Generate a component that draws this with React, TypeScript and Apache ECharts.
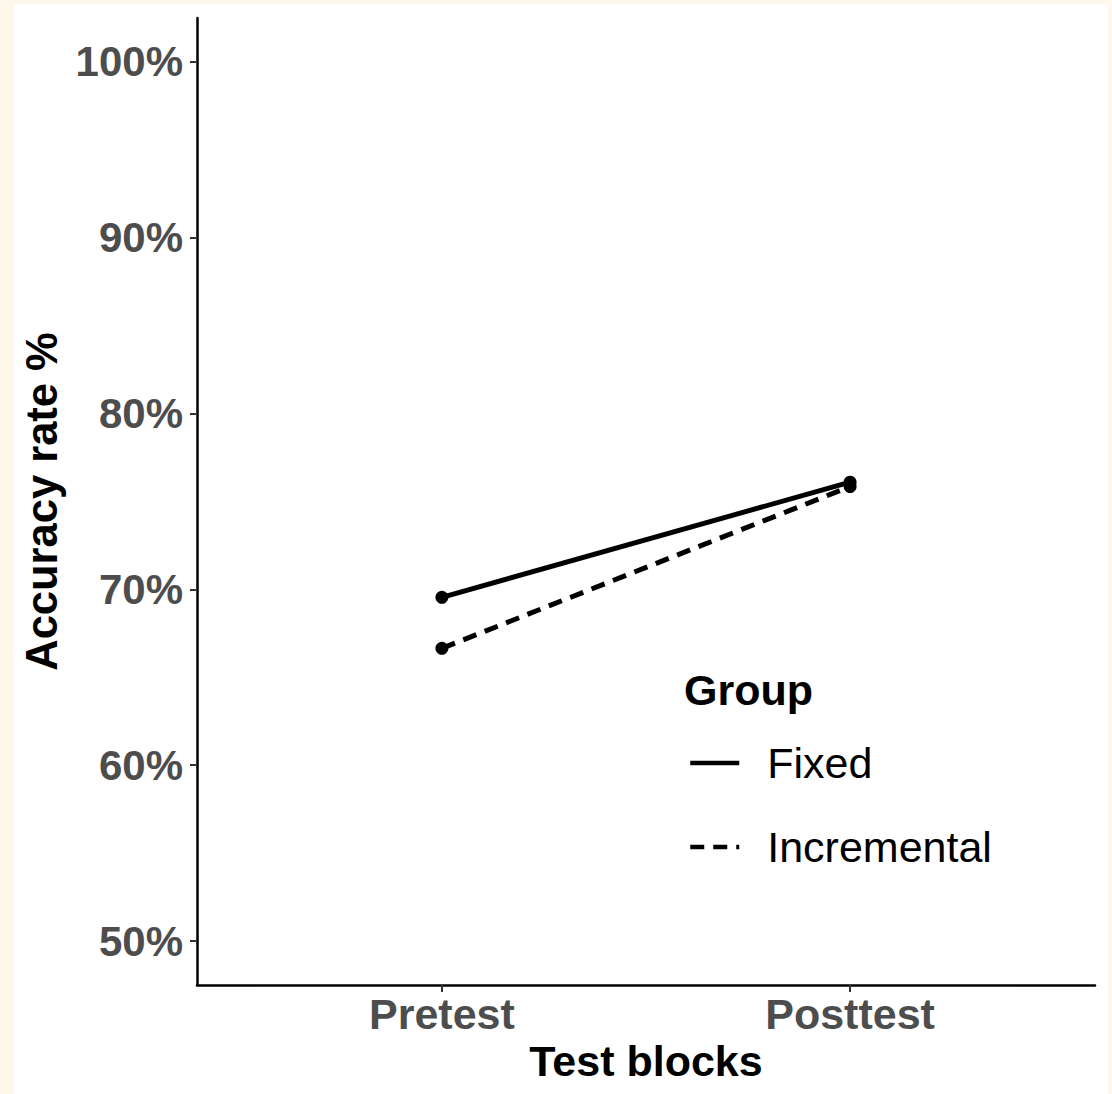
import React, { useEffect, useRef } from "react";
import * as echarts from "echarts";

const categories = ["Pretest", "Posttest"];
const categoryPositions = [1, 2];
const fixedValues = [69.55, 76.1];
const incrementalValues = [66.65, 75.85];
const yTicks = [50, 60, 70, 80, 90, 100];

const FONT = "'Liberation Sans', Arial, Helvetica, sans-serif";

export default function App() {
  const ref = useRef<HTMLDivElement>(null);

  useEffect(() => {
    if (!ref.current) return;
    const chart = echarts.init(ref.current, undefined, { renderer: "svg" });
    const toPairs = (vals: number[]) => vals.map((v, i) => [categoryPositions[i], v]);
    chart.setOption({
      animation: false,
      backgroundColor: "#ffffff",
      grid: { left: 183, top: 14, right: 13, bottom: 109, containLabel: false, outerBoundsMode: "none" },
      xAxis: {
        type: "value",
        min: 0.4,
        max: 2.6,
        name: "Test blocks",
        nameLocation: "middle",
        nameGap: 51,
        nameTextStyle: { fontFamily: FONT, fontSize: 43, fontWeight: "bold", color: "#000" },
        splitLine: { show: false },
        axisLine: { show: true, onZero: false, lineStyle: { color: "#000", width: 2.5 } },
        axisTick: { show: true, customValues: categoryPositions, length: 7, lineStyle: { color: "#333", width: 2 } },
        axisLabel: {
          customValues: categoryPositions,
          margin: 7,
          fontFamily: FONT,
          fontSize: 43,
          fontWeight: "bold",
          color: "#4D4D4D",
          formatter: (v: number) => {
            const i = categoryPositions.indexOf(Math.round(v));
            return i >= 0 ? categories[i] : "";
          },
        },
      },
      yAxis: {
        type: "value",
        min: 47.5,
        max: 102.5,
        name: "Accuracy rate %",
        nameLocation: "middle",
        nameGap: 133,
        nameRotate: 90,
        nameTextStyle: { fontFamily: FONT, fontSize: 43.5, fontWeight: "bold", color: "#000" },
        splitLine: { show: false },
        axisLine: { show: true, onZero: false, lineStyle: { color: "#000", width: 2.5 } },
        axisTick: { show: true, customValues: yTicks, length: 7, lineStyle: { color: "#333", width: 2 } },
        axisLabel: {
          customValues: yTicks,
          margin: 14,
          fontFamily: FONT,
          fontSize: 42,
          fontWeight: "bold",
          color: "#4D4D4D",
          formatter: (v: number) => `${v}%`,
        },
      },
      legend: {
        orient: "vertical",
        left: 669,
        top: 732,
        itemWidth: 49,
        itemHeight: 5,
        itemGap: 40,
        itemStyle: { opacity: 0 },
        lineStyle: { width: 4.5, color: "#000" },
        textStyle: { fontFamily: FONT, fontSize: 43, color: "#000", lineHeight: 44, padding: [0, 0, 0, 23] },
        data: ["Fixed", "Incremental"],
      },
      graphic: [
        {
          type: "text",
          left: 670,
          top: 664,
          style: { text: "Group", fontFamily: FONT, fontSize: 43, fontWeight: "bold", fill: "#000" },
        },
      ],
      series: [
        {
          name: "Fixed",
          type: "line",
          data: toPairs(fixedValues),
          symbol: "circle",
          symbolSize: 13,
          itemStyle: { color: "#000" },
          lineStyle: { color: "#000", width: 5, type: "solid" },
        },
        {
          name: "Incremental",
          type: "line",
          data: toPairs(incrementalValues),
          symbol: "circle",
          symbolSize: 13,
          itemStyle: { color: "#000" },
          lineStyle: { color: "#000", width: 5, type: [14, 9] },
        },
      ],
    });
    return () => chart.dispose();
  }, []);

  return (
    <div style={{ position: "fixed", left: 0, top: 0, width: 1112, height: 1094, background: "#FDF8E9" }}>
      <div style={{ position: "absolute", left: 14, top: 4, width: 1094, height: 1090, background: "#fff" }}>
        <div ref={ref} style={{ width: 1094, height: 1090 }} />
      </div>
    </div>
  );
}
